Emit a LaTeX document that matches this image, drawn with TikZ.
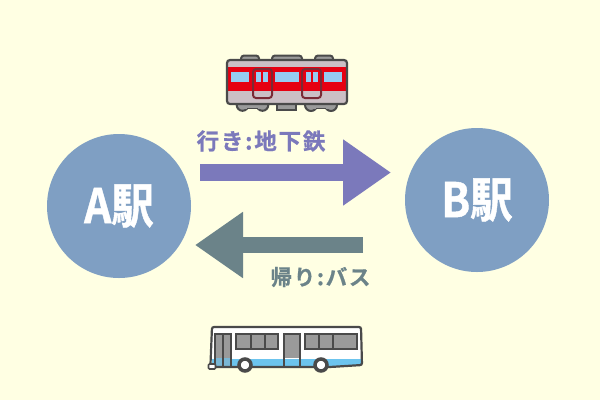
\documentclass[tikz,border=0pt]{standalone}
\usepackage{fontspec}
\usetikzlibrary{arrows.meta}
\newfontfamily\jpb[LetterSpace=8,RawFeature={embolden=0.8}]{Noto Sans CJK JP Bold}
\newfontfamily\jpc[RawFeature={embolden=1.0}]{Noto Sans CJK JP Bold}
\definecolor{bgc}{HTML}{FFFFE3}
\definecolor{stn}{HTML}{7F9FC3}
\definecolor{goc}{HTML}{7B79BB}
\definecolor{bkc}{HTML}{6B8389}
\definecolor{dk}{HTML}{4A4A4A}
\definecolor{rf}{HTML}{9A9A9A}
\definecolor{rd}{HTML}{E60012}
\definecolor{pk}{HTML}{CBBFC5}
\definecolor{sky}{HTML}{96CBF2}
\definecolor{dr}{HTML}{7A2A35}
\definecolor{bb}{HTML}{6CC4EE}
\tikzset{
  x=1pt,y=-1pt,
  station/.style={circle,fill=stn,minimum size=144pt,inner sep=0pt,text=white,font=\jpc\fontsize{42.5}{42.5}\selectfont},
  flow/.style={line width=16.5pt,-{Triangle[length=48pt,width=63pt]}},
  lbl/.style={font=\jpb\fontsize{22.5}{22.5}\selectfont,inner sep=0pt},
  part/.style={draw=dk,line width=2pt,fill=rf},
  win/.style={fill=sky},
  bwin/.style={draw=dk,line width=2pt,fill=rf}
}
\begin{document}
\begin{tikzpicture}
\useasboundingbox (0,0) rectangle (600,400);
\fill[bgc] (0,0) rectangle (600,400);
% stations
\node[station] (A) at (119,206) {\scalebox{1}[1.12]{A駅}};
\node[station] (B) at (477,200) {\scalebox{1}[1.12]{B駅}};
% arrows
\coordinate (g1) at (200,172.5);
\coordinate (g2) at (391,172.5);
\coordinate (b1) at (363,245);
\coordinate (b2) at (195,245);
\draw[flow,draw=goc,fill=goc] (g1) -- (g2);
\draw[flow,draw=bkc,fill=bkc] (b1) -- (b2);
\node[lbl,text=goc] (gl) at (261,141) {行き:地下鉄};
\node[lbl,text=bkc,font=\jpb\fontsize{21.5}{21.5}\selectfont] (bl) at (320.5,277) {帰り:バス};
% train
\draw[part,rounded corners=3pt] (241,62)--(241,55.5)--(259,55.5)--(259,62);
\draw[part,rounded corners=3pt] (272,62)--(272,55.5)--(302,55.5)--(302,62);
\draw[part,rounded corners=3pt] (315,62)--(315,55.5)--(333,55.5)--(333,62);
\draw[part] (277,103) rectangle (296,110);
\draw[part] (242.5,105) circle[radius=5.8];
\draw[part] (262.5,105) circle[radius=5.8];
\fill[rf] (243,100) rectangle (262,108.5);
\draw[dk,line width=1.5pt] (247,108.7)--(258,108.7);
\draw[part] (311,105) circle[radius=6];
\draw[part] (331,105) circle[radius=6];
\fill[rf] (311,100) rectangle (331,108.5);
\draw[dk,line width=1.5pt] (316,108.7)--(326,108.7);
\begin{scope}
\clip[rounded corners=3pt] (227,60) rectangle (347,104);
\fill[pk] (227,60) rectangle (347,104);
\fill[rd] (227,67) rectangle (347,91);
\end{scope}
\fill[win] (231,72) rectangle (249,82);
\fill[win] (275,72) rectangle (299,82);
\fill[win] (324,72) rectangle (342,82);
\fill[win] (256,72) rectangle (261,82);
\fill[win] (263,72) rectangle (268,82);
\fill[win] (306,72) rectangle (311,82);
\fill[win] (313,72) rectangle (318,82);
\draw[dr,line width=2pt,rounded corners=3pt] (253,69) rectangle (272,98);
\draw[dr,line width=2pt,rounded corners=3pt] (302,69) rectangle (321,98);
\draw[dk,line width=2.2pt,rounded corners=3pt] (227,60) rectangle (347,104);
% bus
\begin{scope}
\clip[rounded corners=2pt] (212,327)--(361,327)--(362,365)--(330,367)--(212,367)--cycle;
\fill[white] (210,327) rectangle (363,367);
\fill[bb] (210,358.5) rectangle (363,368);
\end{scope}
\fill[rf] (215,334) rectangle (231,358);
\fill[bb!70!rf] (215,358) rectangle (231,368);
\draw[dk,line width=1.8pt] (215,367.5)--(215,334)--(231,334)--(231,367.5);
\draw[dk,line width=1.4pt] (223,334)--(223,367.5);
\draw[bwin] (236,334) rectangle (278,349);
\draw[dk,line width=1.4pt] (251,334)--(251,349) (265,334)--(265,349);
\fill[rf] (284,334) rectangle (300,358);
\draw[dk,line width=1.8pt] (284,367)--(284,334)--(300,334)--(300,367);
\draw[bwin] (305,334) rectangle (357,349);
\draw[dk,line width=1.4pt] (319,334)--(319,349) (333,334)--(333,349);
\draw[dk,line width=2.2pt,rounded corners=2pt] (210.5,364)--(212,327)--(361,327)--(362,365)--(330,367)--(212,367);
\draw[dk,line width=1.6pt,fill=white,rounded corners=1pt] (208.5,364) rectangle (215.5,369);
\draw[dk,line width=3.5pt,fill=white] (245,365) circle[radius=6];
\draw[dk,line width=3.5pt,fill=white] (321,365) circle[radius=6];
\end{tikzpicture}
\end{document}
